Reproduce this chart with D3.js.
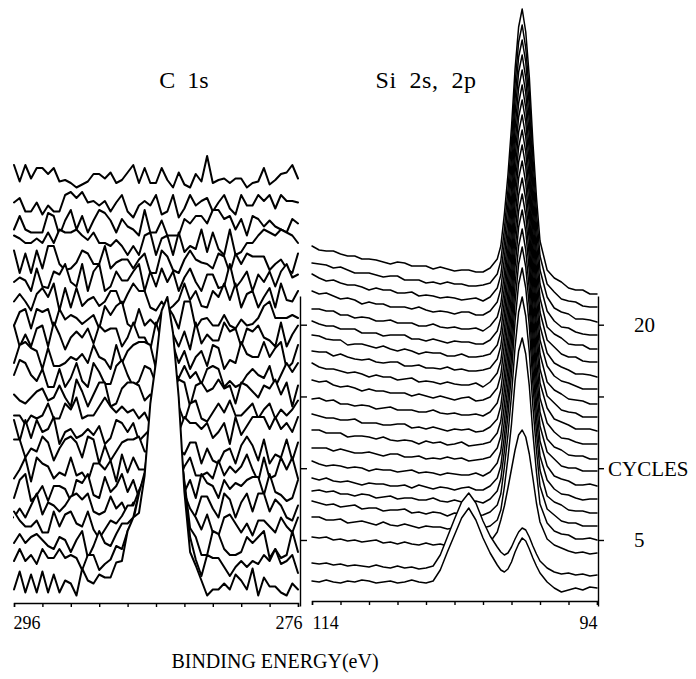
<!DOCTYPE html>
<html><head><meta charset="utf-8">
<script src="https://cdn.jsdelivr.net/npm/d3@7/dist/d3.min.js"></script>
<style>
html,body{margin:0;padding:0;background:#fff;}
svg{display:block;}
</style></head><body>
<svg id="chart" width="696" height="679"></svg>
<script>
// ---------- C 1s panel (binding energy grid, eV) ----------
const cEnergy = [296,295.6,295.2,294.8,294.4,294,293.6,293.2,292.8,292.4,292,291.6,291.2,290.8,290.4,290,289.6,289.2,288.8,288.4,288,287.6,287.2,286.8,286.4,286,285.6,285.2,284.8,284.4,284,283.6,283.2,282.8,282.4,282,281.6,281.2,280.8,280.4,280,279.6,279.2,278.8,278.4,278,277.6,277.2,276.8,276.4,276];
// waterfall offset of each successive scan (a.u.)
const cOffsets = [0,13,25,38,50,63,76,88,101,114,126,139,151,164,177,189,202,214,227,240,252,265];
// intensity of each scan (a.u.), front (first cycle) to back
const cSpectra = [
[12,24,10,22,10,24,10,22,10,18,16,8,26,18,16,22,20,20,30,31,51,60,63,88,136,164,198,207,183,140,77,37,28,18,8,12,12,16,12,22,18,12,26,8,20,14,14,10,8,16,12],
[18,26,18,22,16,26,20,20,26,20,22,20,12,22,22,12,16,19,28,26,38,45,63,77,107,140,156,169,155,107,69,34,19,8,22,20,20,14,8,14,18,14,18,16,22,18,26,16,18,22,10],
[18,24,18,22,24,20,16,14,22,20,12,20,26,8,16,26,18,16,24,31,31,35,51,63,93,108,125,135,115,89,59,28,22,10,10,26,24,14,10,10,12,22,18,22,26,8,14,8,10,26,12],
[26,20,16,16,20,12,12,26,16,24,26,18,16,26,14,8,14,20,18,23,30,30,40,48,63,83,90,97,84,65,38,28,22,14,24,12,10,22,24,18,12,18,10,20,20,16,12,22,16,12,22],
[10,16,10,18,26,12,20,18,14,18,24,26,22,26,14,12,14,24,16,20,12,20,16,14,14,24,14,12,22,26,18,8,12,24,24,16,10,26,22,10,20,26,14,26,26,14,22,18,10,8,18],
[10,22,26,8,12,18,8,18,18,16,8,22,20,26,12,10,24,14,18,26,14,22,10,14,22,26,10,8,8,10,14,22,10,26,20,18,10,22,16,20,18,22,24,24,12,26,14,12,8,10,22],
[10,16,24,8,24,20,18,10,14,12,24,12,14,8,20,20,16,22,8,26,14,24,16,16,20,8,26,18,18,8,18,24,12,12,14,10,22,12,18,14,18,26,16,8,24,10,12,24,16,24,10],
[24,24,12,18,16,26,22,10,18,24,26,22,12,26,24,8,20,10,16,22,24,24,26,16,16,16,8,14,18,18,14,22,22,8,18,10,8,16,18,8,20,26,20,10,24,8,14,12,24,10,22],
[24,10,24,12,24,16,18,26,8,16,18,12,14,18,14,20,8,12,24,22,16,22,10,14,18,12,20,20,12,16,26,22,22,18,22,12,16,22,8,26,14,20,26,26,26,18,26,18,22,16,26],
[14,14,8,14,12,14,22,12,12,22,18,26,12,14,14,20,26,20,16,20,16,18,12,16,8,18,16,12,24,20,10,22,24,12,10,16,22,16,24,14,14,18,22,12,18,22,12,18,14,18,24],
[16,12,10,14,18,20,12,14,22,14,8,26,18,8,16,24,24,8,10,20,24,24,22,12,16,12,8,26,20,26,24,8,22,24,18,20,26,20,22,10,24,22,18,14,22,20,26,16,24,8,22],
[16,26,24,16,12,20,8,8,20,8,14,24,12,8,24,18,10,10,22,26,16,8,12,22,20,10,20,20,18,14,22,14,18,10,20,22,20,8,12,8,10,16,20,16,14,22,8,16,24,18,24],
[12,24,26,22,20,8,22,10,10,12,16,14,18,12,24,16,14,8,24,12,20,24,26,26,24,8,12,20,24,12,20,8,16,20,10,24,22,8,14,12,26,18,16,16,26,16,22,26,8,12,24],
[24,10,18,10,22,24,10,26,18,8,16,20,16,22,12,24,20,22,22,10,16,26,16,16,8,26,14,18,18,10,20,8,26,12,18,14,14,26,20,22,10,22,20,24,16,14,10,26,10,18,24],
[11,20,22,9,22,20,22,9,22,15,18,16,12,15,18,9,24,18,24,27,12,9,22,11,15,11,20,24,18,9,27,27,9,15,16,11,11,18,11,9,15,11,12,16,24,27,16,16,16,18,16],
[15,20,15,9,20,24,18,27,9,24,11,24,12,16,18,12,15,22,22,12,20,27,22,22,11,9,15,9,12,16,27,16,22,12,11,22,18,27,16,27,11,20,22,11,18,24,11,27,16,15,22],
[15,18,16,9,24,12,11,22,20,27,15,12,27,9,22,27,9,12,22,16,16,22,27,9,22,12,24,15,22,9,18,24,15,9,20,20,11,12,27,11,16,22,9,20,15,22,12,22,27,18,20],
[24,9,22,9,24,12,27,27,15,11,12,16,24,22,15,15,27,12,16,18,18,12,18,22,9,9,24,20,11,9,18,24,18,16,15,12,22,20,9,22,15,22,20,20,20,11,15,18,12,9,22],
[21,19,16,16,19,16,23,16,25,23,23,25,21,18,23,16,16,14,18,14,8,14,8,21,23,8,19,21,8,23,10,14,12,25,10,23,12,8,25,8,10,16,16,21,25,23,21,25,23,21,16],
[12,21,12,10,10,10,23,21,8,18,25,12,21,10,18,25,23,18,10,19,14,12,8,25,10,10,18,8,8,8,19,16,21,21,16,25,25,19,21,12,19,8,21,19,14,18,14,12,10,19,16],
[18,21,12,12,18,10,16,12,12,23,25,21,25,18,19,16,19,12,18,23,12,8,16,19,16,23,10,12,23,8,14,23,16,19,21,12,18,23,14,10,23,16,16,23,19,23,14,23,19,19,18],
[30,19,30,21,28,28,24,28,19,20,18,15,17,19,24,24,21,25,18,20,25,30,18,28,18,18,28,20,15,25,17,15,24,19,36,18,20,21,18,21,21,15,18,19,28,17,20,24,25,30,21]
];

// ---------- Si 2s, 2p panel ----------
const siEnergy = [114,113.5,113,112.5,112,111.5,111,110.5,110,109.5,109,108.5,108,107.5,107,106.5,106,105.5,105,104.5,104,103.5,103,102.5,102,101.5,101,100.75,100.5,100.25,100,99.75,99.5,99.25,99,98.75,98.5,98.25,98,97.5,97,96.5,96,95.5,95,94.5,94];
const siOffsets = [8,21,42,56,69,83,96,110,124,137,151,165,178,192,206,219,233,247,260,274,288,302];
const siSpectra = [
[11,10,12,10,9,11,10,12,11,9,10,11,9,10,12,10,9,11,22,40,57,74,84,72,54,39,27,22,20,23,30,40,48,54,51,43,34,26,19,10,4,0,2,4,2,5,4],
[16,15,16,14,15,13,14,13,12,14,12,11,13,11,12,10,11,13,24,42,60,77,86,76,58,43,32,27,24,26,32,40,47,51,49,42,33,25,18,11,7,5,6,4,5,3,4],
[21,20,21,18,19,17,18,16,17,18,15,16,14,16,14,13,15,13,14,12,14,12,13,12,12,16,26,38,52,70,89,108,123,128,121,104,80,55,36,19,13,10,7,5,6,4,5],
[27,27,24,24,25,21,22,23,21,19,22,19,18,20,18,16,18,17,17,15,16,18,14,15,16,18,24,34,57,86,120,163,193,206,190,158,111,72,40,21,13,10,9,5,5,6,4],
[30,28,26,27,24,25,26,22,23,23,20,21,21,22,18,19,17,19,18,15,18,17,17,15,16,19,26,37,64,96,136,184,219,234,215,179,125,81,45,22,16,10,8,8,5,5,5],
[26,27,25,26,23,23,21,23,22,19,20,21,18,19,19,17,17,19,16,15,17,15,15,16,14,18,26,38,66,102,144,196,233,249,229,191,133,85,47,21,15,12,7,6,6,4,4],
[26,24,26,23,22,23,21,19,21,20,20,18,18,19,16,19,17,15,17,16,14,16,17,14,14,18,26,38,68,104,148,202,240,257,237,197,137,88,48,24,15,10,9,6,4,5,5],
[29,26,24,25,24,22,23,22,19,21,20,20,18,19,20,17,18,17,15,17,16,15,15,17,14,18,27,39,69,106,151,205,244,261,240,200,140,89,49,24,14,11,9,5,5,6,4],
[28,28,28,25,27,25,23,23,24,22,20,22,22,19,19,20,17,18,17,19,17,18,15,16,17,19,28,40,71,108,153,209,249,266,245,204,142,91,50,24,17,10,8,8,5,5,5],
[33,33,30,30,30,26,27,27,26,24,26,23,22,23,22,19,22,20,21,18,19,21,17,18,19,21,30,42,73,111,156,212,252,269,248,206,144,92,51,24,16,13,8,7,7,4,4],
[35,33,31,31,29,29,30,26,26,26,24,24,25,25,21,22,20,22,20,18,20,19,20,17,18,22,30,43,74,112,158,214,254,271,250,208,145,93,51,26,17,11,10,7,5,5,5],
[36,37,34,35,31,31,29,30,29,26,27,28,25,25,25,23,23,25,22,21,22,20,20,21,19,23,32,45,75,114,160,216,257,274,252,210,147,95,52,27,16,13,10,6,6,6,4],
[42,40,41,37,35,36,34,31,33,31,31,29,29,29,26,28,26,24,26,24,22,24,25,21,22,25,34,47,78,116,162,219,260,277,255,212,149,96,53,26,19,12,10,9,5,5,5],
[45,41,39,39,37,35,36,34,31,33,31,31,28,29,30,26,27,26,24,26,24,23,23,25,21,26,35,47,78,117,163,220,261,278,256,213,150,96,54,26,18,14,9,8,7,4,4],
[43,42,42,38,40,37,35,34,35,32,31,32,32,28,28,29,26,26,25,27,24,25,23,23,24,26,35,48,79,118,164,221,262,279,257,214,150,97,54,28,18,13,11,8,5,5,5],
[46,45,42,41,41,36,37,37,35,33,35,32,30,32,30,27,29,28,28,25,25,27,24,24,25,27,36,49,80,119,166,223,264,281,259,216,151,98,55,28,18,14,11,7,7,6,4],
[46,43,41,41,38,38,38,34,34,34,31,32,32,32,28,28,26,28,26,24,26,25,25,23,23,27,36,49,80,119,166,223,264,282,259,216,152,98,55,27,20,13,10,10,6,5,5],
[44,44,42,42,38,38,35,36,35,32,32,33,30,30,30,27,27,29,26,25,26,24,24,25,22,27,36,49,80,119,166,224,265,283,260,217,152,98,55,26,19,15,9,8,8,4,4],
[49,46,47,44,41,42,40,36,38,36,36,33,33,33,31,33,30,28,29,28,26,28,28,25,25,29,38,51,82,121,169,226,268,285,262,219,154,99,56,29,19,13,12,8,6,5,5],
[52,48,45,46,43,41,41,39,36,38,36,36,33,33,34,30,31,30,28,29,28,26,27,28,25,29,38,51,83,122,169,227,269,286,264,220,154,100,56,29,18,14,12,7,7,6,4],
[49,48,47,44,45,42,39,39,39,37,35,36,36,32,32,32,29,30,28,30,28,28,26,26,27,29,38,51,83,122,170,228,270,287,264,220,155,100,56,28,20,13,11,10,6,5,5],
[52,48,47,47,44,42,42,39,39,38,36,34,36,35,32,32,32,29,31,29,27,28,28,26,26,30,39,52,84,123,171,229,271,289,266,221,156,101,57,28,20,16,10,8,8,4,4]
];

// ---------- axes / labels ----------
const cTicks = [296,294,292,290,288,286,284,282,280,278,276];
const siTicks = [114,112,110,108,106,104,102,100,98,96,94];
const cycleTicks = [5,10,15,20];
const cycleTickLabels = ["5","","","20"];
const panelTitles = ["C  1s", "Si  2s,  2p"];
const xTitle = "BINDING ENERGY(eV)";
const yTitle = "CYCLES";

const SERIF = "'Liberation Serif','Times New Roman',serif";
const svg = d3.select("#chart");

const xC = d3.scaleLinear().domain([296, 276]).range([14, 298]);
const xSi = d3.scaleLinear().domain([114, 94]).range([312, 597]);
const yC = d3.scaleLinear().domain([5, 405]).range([600, 0]);
const ySi = d3.scaleLinear().domain([0, 600]).range([600, 0]);
const yCycle = d3.scaleLinear().domain([0.4, 22]).range([606, 296]);

function drawPanel(cls, energy, offsets, spectra, x, y, sw) {
  const g = svg.append("g").attr("class", cls);
  const base = y.domain()[0];
  const line = d3.line().x((d, j) => x(energy[j])).y(d => y(d));
  const area = d3.area().x((d, j) => x(energy[j])).y0(y(base)).y1(d => y(d));
  // back (last cycle) first, so front scans hide what lies behind them
  for (let i = spectra.length - 1; i >= 0; i--) {
    const vals = spectra[i].map(v => v + offsets[i]);
    g.append("path").attr("d", area(vals)).attr("fill", "#fff").attr("stroke", "none");
    g.append("path").attr("d", line(vals)).attr("fill", "none")
      .attr("stroke", "#000").attr("stroke-width", sw)
      .attr("stroke-linejoin", "round").attr("stroke-linecap", "round");
  }
}
drawPanel("c1s", cEnergy, cOffsets, cSpectra, xC, yC, 2.0);
drawPanel("si", siEnergy, siOffsets, siSpectra, xSi, ySi, 1.5);

function styleAxis(g) {
  g.attr("font-family", SERIF).attr("font-size", 18);
  g.selectAll("path,line").attr("stroke", "#000").attr("stroke-width", 1.4);
  g.selectAll("text").attr("fill", "#000");
}

const axCB = svg.append("g").attr("transform", "translate(0,603)")
  .call(d3.axisBottom(xC).tickValues(cTicks).tickSize(4).tickPadding(9)
    .tickFormat(d => (d === 296 || d === 276) ? String(d) : ""));
styleAxis(axCB);
axCB.selectAll(".tick text").attr("text-anchor", d => d === 296 ? "start" : "end")
  .attr("dx", d => d === 296 ? -1 : 4);

const axSiB = svg.append("g").attr("transform", "translate(0,601)")
  .call(d3.axisBottom(xSi).tickValues(siTicks).tickSize(4).tickPadding(11)
    .tickFormat(d => (d === 114 || d === 94) ? String(d) : ""));
styleAxis(axSiB);
axSiB.selectAll(".tick text").attr("text-anchor", d => d === 114 ? "start" : "end");

const axCR = svg.append("g").attr("transform", "translate(300,0)")
  .call(d3.axisRight(yCycle).tickValues(cycleTicks).tickSize(7).tickSizeOuter(0).tickFormat(""));
styleAxis(axCR);

const axSiR = svg.append("g").attr("transform", "translate(598,0)")
  .call(d3.axisRight(yCycle).tickValues(cycleTicks).tickSize(6).tickSizeOuter(0).tickPadding(30)
    .tickFormat((d, i) => cycleTickLabels[i]));
styleAxis(axSiR);
axSiR.selectAll(".tick text").attr("font-size", 21);

svg.append("text").attr("x", 608).attr("y", yCycle(10)).attr("dy", "0.35em")
  .attr("font-family", SERIF).attr("font-size", 21).text(yTitle);

svg.append("text").attr("x", 184).attr("y", 88).attr("text-anchor", "middle")
  .attr("font-family", SERIF).attr("font-size", 24).style("white-space", "pre").text(panelTitles[0]);
svg.append("text").attr("x", 426).attr("y", 88).attr("text-anchor", "middle")
  .attr("font-family", SERIF).attr("font-size", 24).attr("letter-spacing", 0.5)
  .style("white-space", "pre").text(panelTitles[1]);

svg.append("text").attr("x", 275).attr("y", 668).attr("text-anchor", "middle")
  .attr("font-family", SERIF).attr("font-size", 20).text(xTitle);
</script>
</body></html>
